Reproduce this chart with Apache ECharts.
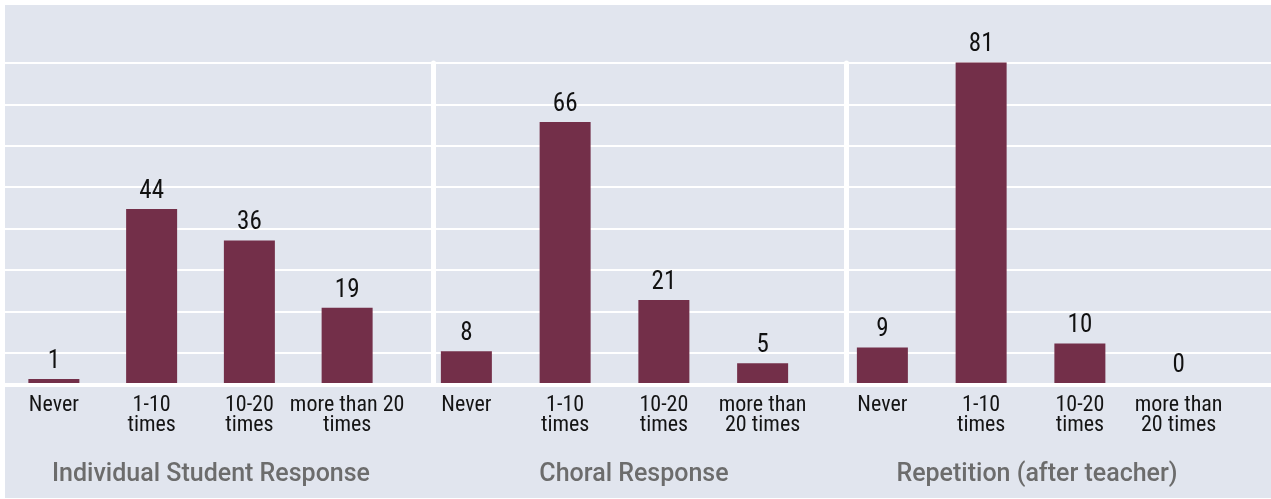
<!DOCTYPE html>
<html>
<head>
<meta charset="utf-8">
<script src="https://cdn.jsdelivr.net/npm/echarts@6/dist/echarts.min.js"></script>
<style>
html,body{margin:0;padding:0;background:#ffffff;}
#chart{position:absolute;left:5px;top:5px;width:1266px;height:493px;background:#e1e5ee;}
</style>
</head>
<body>
<div id="chart"></div>
<script>
// ---- data ----
const panelTitles = ['Individual Student Response', 'Choral Response', 'Repetition (after teacher)'];
const categories1 = ['Never', '1-10\ntimes', '10-20\ntimes', 'more than 20\ntimes'];
const categories2 = ['Never', '1-10\ntimes', '10-20\ntimes', 'more than\n20 times'];
const categories3 = ['Never', '1-10\ntimes', '10-20\ntimes', 'more than\n20 times'];
const values1 = [1, 44, 36, 19];
const values2 = [8, 66, 21, 5];
const values3 = [9, 81, 10, 0];

const BAR = '#732f49';
const narrow = "'Roboto Condensed', 'DejaVu Sans Condensed', sans-serif";
const titleFont = "Roboto, 'Noto Sans', sans-serif";

const chart = echarts.init(document.getElementById('chart'));

const panels = [
  {cats: categories1, vals: values1, left: -15, width: 406, titleX: 206},
  {cats: categories2, vals: values2, left: 412, width: 395, titleX: 629},
  {cats: categories3, vals: values3, left: 828, width: 395, titleX: 1032}
];

const grid = [
  {left: 0, right: 0, top: 58, bottom: 104},   // 0: horizontal gridlines
  {left: 0, right: 0, top: 58, bottom: 113},   // 1: baseline
  {left: 428.5, right: 0, top: 58, bottom: 115}, // 2: separator 1
  {left: 841.5, right: 0, top: 58, bottom: 115}  // 3: separator 2
];
const xAxis = [
  {gridIndex: 0, type: 'value', show: false},
  {gridIndex: 1, type: 'value', min: 0, max: 1, axisLine: {show: true, lineStyle: {color: '#ffffff', width: 4}}, axisTick: {show: false}, axisLabel: {show: false}, splitLine: {show: false}, z: 3},
  {gridIndex: 2, type: 'value', show: false},
  {gridIndex: 3, type: 'value', show: false}
];
const yAxis = [
  {gridIndex: 0, type: 'value', min: 0, max: 8, interval: 1, axisLine: {show: false}, axisTick: {show: false}, axisLabel: {show: false},
   splitLine: {show: true, showMinLine: false, lineStyle: {color: '#ffffff', width: 2}}},
  {gridIndex: 1, type: 'value', show: false},
  {gridIndex: 2, type: 'value', min: 0, max: 1, axisLine: {show: true, lineStyle: {color: '#ffffff', width: 5}}, axisTick: {show: false}, axisLabel: {show: false}, splitLine: {show: false}, z: 2},
  {gridIndex: 3, type: 'value', min: 0, max: 1, axisLine: {show: true, lineStyle: {color: '#ffffff', width: 5}}, axisTick: {show: false}, axisLabel: {show: false}, splitLine: {show: false}, z: 2}
];
const series = [];
const title = [];

panels.forEach((p, i) => {
  const gi = grid.length;
  grid.push({left: p.left, width: p.width, top: 22, bottom: 115});
  xAxis.push({
    gridIndex: gi, type: 'category', data: p.cats,
    axisLine: {show: false}, axisTick: {show: false}, splitLine: {show: false},
    axisLabel: {interval: 0, margin: 12, color: '#141414', fontFamily: narrow, fontSize: 22, lineHeight: 20.5}
  });
  yAxis.push({gridIndex: gi, type: 'value', min: 0, max: 90, show: false, splitLine: {show: false}});
  series.push({
    type: 'bar', xAxisIndex: gi, yAxisIndex: gi, data: p.vals, barWidth: 51,
    itemStyle: {color: BAR}, z: 4,
    label: {show: true, position: 'top', distance: 5, color: '#111111', fontFamily: narrow, fontSize: 25}
  });
  title.push({
    text: panelTitles[i], left: p.titleX, top: 457, padding: 0,
    textAlign: 'center',
    textStyle: {color: '#6c6c6c', fontFamily: titleFont, fontWeight: 500, fontSize: 25}
  });
});

chart.setOption({animation: false, title, grid, xAxis, yAxis, series});
</script>
</body>
</html>
